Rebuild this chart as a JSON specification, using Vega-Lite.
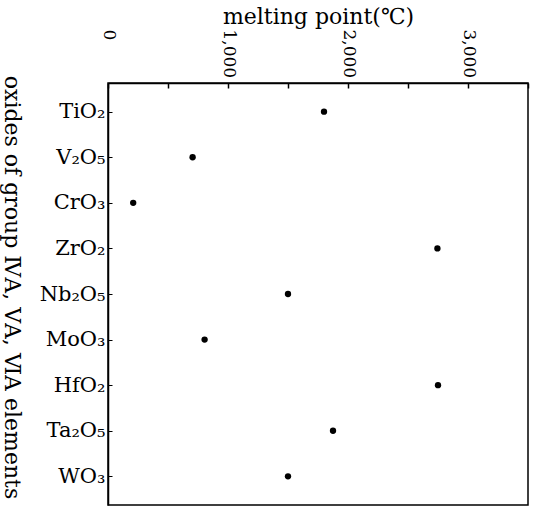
{
  "$schema": "https://vega.github.io/schema/vega-lite/v6.json",
  "autosize": "none",
  "width": 420,
  "height": 422,
  "padding": {"left": 108, "top": 83, "right": 9, "bottom": 3},
  "background": "white",
  "config": {
    "view": {"stroke": "black", "strokeWidth": 1.5},
    "font": "DejaVu Serif",
    "axis": {"titleFont": "DejaVu Serif", "labelFont": "DejaVu Serif"}
  },
  "data": {
    "values": [
      {"oxide": "TiO₂", "mp": 1800},
      {"oxide": "V₂O₅", "mp": 705},
      {"oxide": "CrO₃", "mp": 210},
      {"oxide": "ZrO₂", "mp": 2745},
      {"oxide": "Nb₂O₅", "mp": 1500},
      {"oxide": "MoO₃", "mp": 805},
      {"oxide": "HfO₂", "mp": 2750},
      {"oxide": "Ta₂O₅", "mp": 1875},
      {"oxide": "WO₃", "mp": 1500}
    ]
  },
  "mark": {"type": "point", "filled": true, "color": "black", "opacity": 1, "size": 40},
  "encoding": {
    "x": {
      "field": "mp",
      "type": "quantitative",
      "scale": {"domain": [0, 3500], "nice": false, "zero": true},
      "axis": {
        "orient": "top",
        "title": "melting point(℃)",
        "titleFont": "DejaVu Serif",
        "titleFontSize": 22,
        "titleFontWeight": "normal",
        "titleColor": "black",
        "titlePadding": 1,
        "values": [0, 500, 1000, 1500, 2000, 2500, 3000, 3500],
        "labelExpr": "datum.value % 1000 == 0 ? format(datum.value, ',') : ''",
        "labelAngle": 90,
        "labelAlign": "left",
        "labelBaseline": "middle",
        "labelFont": "DejaVu Serif",
        "labelFontSize": 17,
        "labelColor": "black",
        "labelPadding": 59,
        "labelFlush": false,
        "labelOverlap": false,
        "tickSize": -5,
        "tickColor": "black",
        "tickWidth": 1.5,
        "domainColor": "black",
        "domainWidth": 1.5,
        "grid": false
      }
    },
    "y": {
      "field": "oxide",
      "type": "nominal",
      "sort": null,
      "scale": {"type": "point", "padding": 0.63},
      "axis": {
        "title": "oxides of group ⅣA, ⅤA, ⅥA elements",
        "titleFont": "DejaVu Serif",
        "titleFontSize": 22,
        "titleFontWeight": "normal",
        "titleColor": "black",
        "titleAngle": 90,
        "titleX": -97,
        "titleY": 204,
        "titleAlign": "center",
        "titleBaseline": "middle",
        "labelFont": "DejaVu Serif",
        "labelFontSize": 21,
        "labelColor": "black",
        "labelPadding": 7,
        "tickSize": -4,
        "tickColor": "black",
        "tickWidth": 1,
        "domainColor": "black",
        "domainWidth": 1.5,
        "grid": false
      }
    }
  }
}
